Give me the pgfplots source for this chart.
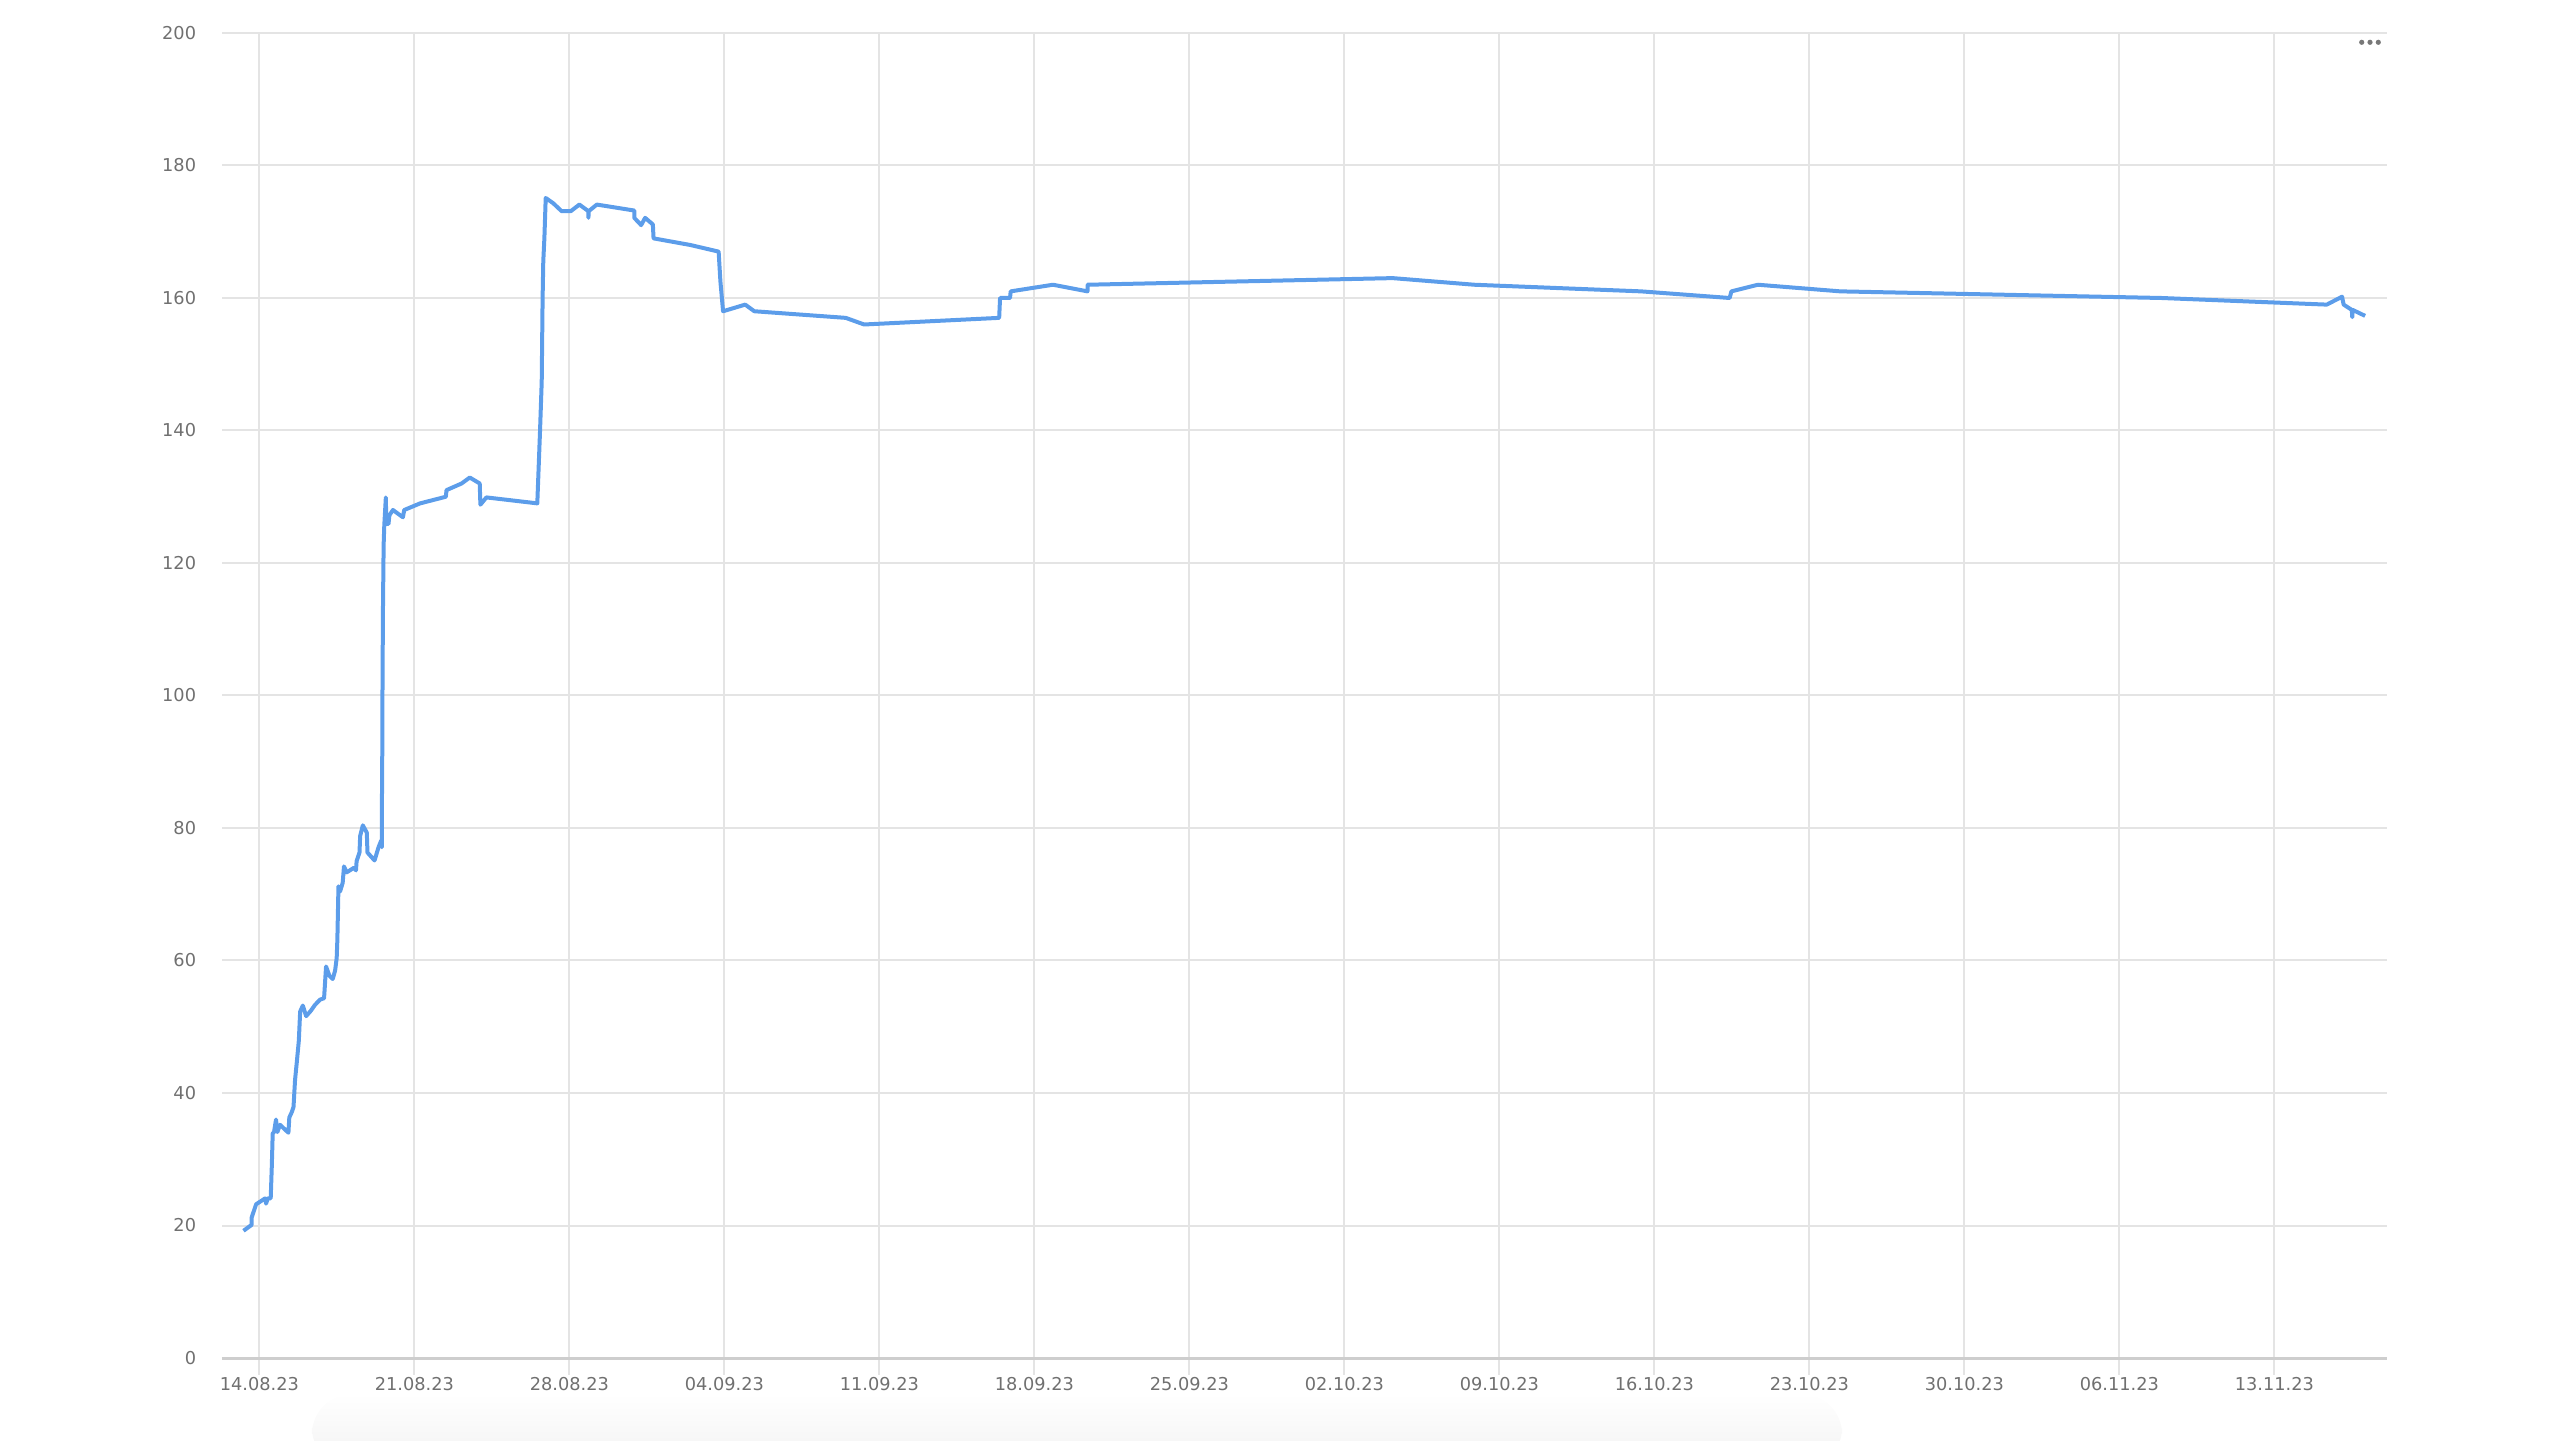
\documentclass[border=0pt]{standalone}
\usepackage{pgfplots}
\pgfplotsset{compat=1.18}
\usepackage{fontspec}
\setmainfont{DejaVu Sans}
\definecolor{linec}{RGB}{92,157,234}
\definecolor{gridc}{RGB}{228,228,228}
\definecolor{axisc}{RGB}{206,206,206}
\definecolor{labc}{RGB}{112,112,112}
\definecolor{dotc}{RGB}{120,120,120}

\pgfplotstableread{
d v
-0.72 19.2
-0.35 20.1
-0.35 21.2
-0.15 23.2
0.26 24.1
0.30 23.3
0.38 24.1
0.51 24.1
0.56 29.0
0.60 33.9
0.66 34.1
0.75 36.0
0.81 34.1
0.93 35.2
1.31 34.0
1.35 36.3
1.46 37.1
1.54 37.9
1.61 42.0
1.69 44.7
1.78 47.9
1.84 52.3
1.96 53.2
2.11 51.6
2.32 52.4
2.51 53.3
2.74 54.1
2.92 54.3
3.01 59.1
3.16 57.7
3.31 57.2
3.42 58.5
3.49 60.4
3.52 63.1
3.57 71.2
3.64 70.4
3.76 71.7
3.82 74.2
3.94 73.3
4.27 74.0
4.36 73.6
4.39 75.0
4.52 76.3
4.55 78.8
4.67 80.4
4.85 79.3
4.88 76.3
5.20 75.1
5.38 77.1
5.50 78.1
5.53 77.1
5.53 82.1
5.55 92.1
5.56 102.1
5.58 113.1
5.61 122.7
5.64 125.7
5.71 129.9
5.73 125.9
5.83 125.9
5.87 127.2
6.03 128.0
6.48 126.9
6.54 128.0
7.26 129.0
8.42 130.0
8.45 131.0
9.13 132.0
9.50 132.9
9.95 132.0
9.98 128.8
10.25 129.9
12.55 129.0
12.67 139.6
12.75 147.4
12.79 160.0
12.82 165.5
12.87 169.0
12.93 175.1
13.27 174.3
13.65 173.1
14.06 173.1
14.45 174.1
14.86 173.1
14.86 172.1
14.87 173.1
15.24 174.1
16.93 173.2
16.93 172.1
17.24 171.0
17.42 172.1
17.77 171.1
17.80 169.0
19.46 168.0
20.74 167.0
20.82 162.5
20.94 158.0
21.94 159.0
22.35 158.0
26.48 157.0
27.31 156.0
33.41 157.0
33.45 160.0
33.90 160.0
33.93 161.0
35.84 162.0
37.40 161.0
37.40 162.0
51.18 163.0
54.87 162.0
62.40 161.0
66.40 160.0
66.48 161.0
67.68 162.0
71.40 161.0
85.90 160.0
93.37 159.0
94.06 160.2
94.13 159.0
94.50 158.2
94.52 157.1
94.54 158.2
95.10 157.3
}\datatab

\begin{document}
\begin{tikzpicture}[x=1cm,y=1cm]
\useasboundingbox (-2.22,-0.82) rectangle (23.38,13.58);
\shade[top color=white,bottom color=black!5,rounded corners=0.4cm] (0.9,-1.1) rectangle (16.2,-0.36);
\begin{axis}[
  at={(0,0)}, anchor=south west,
  scale only axis, width=21.65cm, height=13.25cm,
  xmin=-1.69, xmax=96.09, ymin=0, ymax=200,
  xtick={0,7,...,91},
  xticklabels={14.08.23,21.08.23,28.08.23,04.09.23,11.09.23,18.09.23,25.09.23,02.10.23,09.10.23,16.10.23,23.10.23,30.10.23,06.11.23,13.11.23},
  ytick={0,20,...,200},
  /pgf/number format/assume math mode=true,
  grid=major,
  major grid style={draw=gridc, line width=0.02cm},
  axis x line*=bottom, axis y line*=left,
  x axis line style={-, draw=axisc, line width=0.03cm},
  y axis line style={draw=none},
  tick align=outside, major tick length=0.17cm,
  xtick style={draw=gridc, line width=0.02cm},
  ytick style={draw=none},
  xticklabel style={font=\fontsize{5.05}{6}\selectfont, text=labc, yshift=0.105cm},
  yticklabel style={font=\fontsize{5.05}{6}\selectfont, text=labc, xshift=0.035cm},
  clip=false,
]
\addplot[color=linec, line width=0.04cm, line join=round, mark=none] table[x=d, y=v] {\datatab};
\end{axis}
\fill[dotc] (21.397,13.157) circle (0.026);
\fill[dotc] (21.480,13.157) circle (0.026);
\fill[dotc] (21.563,13.157) circle (0.026);
\end{tikzpicture}
\end{document}
